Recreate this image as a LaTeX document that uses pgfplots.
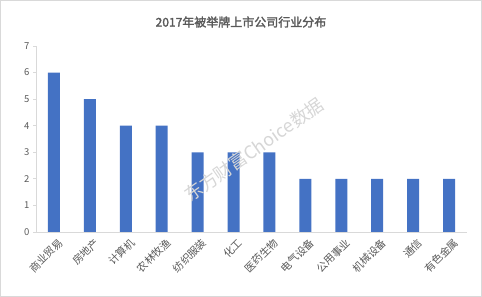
\documentclass[border=0pt]{standalone}
\usepackage{pgfplots}
\pgfplotsset{compat=1.18}
\usepackage{fontspec}
\setmainfont{Noto Sans CJK SC}
\newfontfamily\cjkbold[FakeBold=2]{Noto Sans CJK SC}
\definecolor{barblue}{HTML}{4472C4}
\definecolor{txtgray}{HTML}{595959}
\definecolor{axgray}{HTML}{D9D9D9}
\begin{document}
\begin{tikzpicture}
\useasboundingbox (0pt,0pt) rectangle (482pt,297pt);
\draw[axgray,line width=1pt] (0.5pt,0.5pt) rectangle (481.5pt,296.5pt);
\node[txtgray,font=\cjkbold\fontsize{12}{14}\selectfont] at (241pt,275pt) {2017年被举牌上市公司行业分布};
\begin{axis}[
  at={(36pt,65pt)}, anchor=south west,
  scale only axis, width=431pt, height=186pt,
  xmin=-0.5, xmax=11.5, ymin=0, ymax=7,
  ytick={0,...,7},
  xtick={0,...,11},
  xticklabels={商业贸易,房地产,计算机,农林牧渔,纺织服装,化工,医药生物,电气设备,公用事业,机械设备,通信,有色金属},
  x tick label style={rotate=45, anchor=north east, font=\fontsize{10.5}{12}\selectfont, text=txtgray, inner sep=1pt, yshift=-3pt, xshift=2pt},
  y tick label style={font=\fontsize{9.5}{11}\selectfont, text=txtgray},
  /pgf/number format/assume math mode=true,
  axis x line*=bottom, axis y line*=left,
  axis line style={axgray, line width=0.8pt},
  x axis line style={-}, y axis line style={-},
  major tick length=3pt,
  xtick style={draw=none},
  ytick style={axgray, line width=0.8pt},
  tick align=outside,
  ybar, bar width=12pt,
]
\addplot[fill=barblue, draw=none] coordinates {(0,6) (1,5) (2,4) (3,4) (4,3) (5,3) (6,3) (7,2) (8,2) (9,2) (10,2) (11,2)};
\end{axis}
\node[black!16,rotate=35,font=\fontsize{18}{20}\selectfont] at (254pt,147pt) {东方财富Choice数据};
\end{tikzpicture}
\end{document}
